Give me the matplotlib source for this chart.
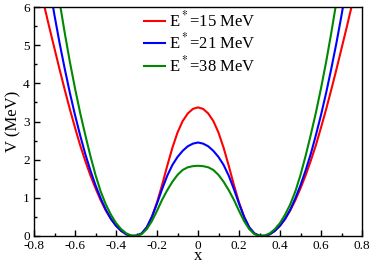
import numpy as np
import matplotlib
matplotlib.use('Agg')
import matplotlib.pyplot as plt
from matplotlib.ticker import MultipleLocator

plt.rcParams['font.family'] = ['Liberation Serif', 'DejaVu Serif']
plt.rcParams['mathtext.fontset'] = 'stix'
plt.rcParams['axes.unicode_minus'] = False

# x 网格 (读图取值)
x = [-0.775, -0.75, -0.725, -0.7, -0.675, -0.65, -0.625, -0.6, -0.575, -0.55,
     -0.525, -0.5, -0.475, -0.45, -0.425, -0.4, -0.375, -0.35, -0.325, -0.3,
     -0.275, -0.25, -0.225, -0.2, -0.175, -0.15, -0.125, -0.1, -0.075, -0.05,
     -0.025, 0.0, 0.025, 0.05, 0.075, 0.1, 0.125, 0.15, 0.175, 0.2,
     0.225, 0.25, 0.275, 0.3, 0.325, 0.35, 0.375, 0.4, 0.425, 0.45,
     0.475, 0.5, 0.525, 0.55, 0.575, 0.6, 0.625, 0.65, 0.675, 0.7,
     0.725, 0.75, 0.775]

nan = np.nan
V_15 = [6.6, 6.03, 5.46, 4.91, 4.36, 3.83, 3.32, 2.84, 2.38, 1.97,
        1.59, 1.25, 0.94, 0.67, 0.45, 0.27, 0.135, 0.045, 0.004, 0.005,
        0.06, 0.22, 0.5, 0.88, 1.34, 1.84, 2.31, 2.71, 3.01, 3.21,
        3.33, 3.37, 3.33, 3.21, 3.01, 2.71, 2.31, 1.84, 1.34, 0.88,
        0.5, 0.22, 0.06, 0.005, 0.004, 0.045, 0.135, 0.27, 0.45, 0.67,
        0.94, 1.25, 1.59, 1.97, 2.38, 2.84, 3.32, 3.83, 4.36, 4.91,
        5.46, 6.03, 6.6]
V_21 = [nan, nan, 6.56, 5.78, 5.05, 4.38, 3.75, 3.17, 2.64, 2.15,
        1.72, 1.33, 0.99, 0.69, 0.45, 0.27, 0.135, 0.045, 0.004, 0.01,
        0.07, 0.23, 0.5, 0.85, 1.23, 1.58, 1.86, 2.07, 2.23, 2.35,
        2.42, 2.45, 2.42, 2.35, 2.23, 2.07, 1.86, 1.58, 1.23, 0.85,
        0.5, 0.23, 0.07, 0.01, 0.004, 0.045, 0.135, 0.27, 0.45, 0.69,
        0.99, 1.33, 1.72, 2.15, 2.64, 3.17, 3.75, 4.38, 5.05, 5.78,
        6.56, nan, nan]
V_38 = [nan, nan, nan, 7.0, 6.13, 5.32, 4.56, 3.87, 3.23, 2.65,
        2.1, 1.6, 1.17, 0.83, 0.56, 0.34, 0.18, 0.07, 0.01, 0.003,
        0.05, 0.18, 0.39, 0.66, 0.95, 1.2, 1.42, 1.6, 1.73, 1.8,
        1.83, 1.84, 1.83, 1.8, 1.73, 1.6, 1.42, 1.2, 0.95, 0.66,
        0.39, 0.18, 0.05, 0.003, 0.01, 0.07, 0.18, 0.34, 0.56, 0.83,
        1.17, 1.6, 2.1, 2.65, 3.23, 3.87, 4.56, 5.32, 6.13, 7.0,
        nan, nan, nan]

labels = [r'E$^*$=15 MeV', r'E$^*$=21 MeV', r'E$^*$=38 MeV']
colors = ['#ff0000', '#0000ff', '#008800']

xticks = [-0.8, -0.6, -0.4, -0.2, 0.0, 0.2, 0.4, 0.6, 0.8]
xtick_labels = ['-0.8', '-0.6', '-0.4', '-0.2', '0', '0.2', '0.4', '0.6', '0.8']
yticks = [0, 1, 2, 3, 4, 5, 6]

fig = plt.figure(figsize=(3.74, 2.64), dpi=100)
ax = fig.add_axes([34 / 374, 28 / 264, 328 / 374, 229 / 264])

for V, lab, c in zip([V_15, V_21, V_38], labels, colors):
    ax.plot(x, V, color=c, linewidth=1.5, label=lab)

ax.set_xlim(-0.8, 0.8)
ax.set_ylim(0, 6)
ax.set_xticks(xticks)
ax.set_xticklabels(xtick_labels)
ax.set_yticks(yticks)
ax.xaxis.set_minor_locator(MultipleLocator(0.1))
ax.yaxis.set_minor_locator(MultipleLocator(0.5))
ax.tick_params(which='both', direction='in', top=False, right=False, labelsize=9.5)
ax.tick_params(which='major', length=4.5, width=1.0, pad=3)
ax.tick_params(which='minor', length=2.2, width=1.0)
for s in ax.spines.values():
    s.set_linewidth(1.0)

ax.set_xlabel('x', fontsize=12, labelpad=-3)
ax.set_ylabel('V (MeV)', fontsize=12, labelpad=1)

ax.legend(loc='upper left', bbox_to_anchor=(0.325, 1.0), frameon=False,
          fontsize=12, handlelength=1.25, handletextpad=0.25,
          labelspacing=0.15, borderpad=0.2, borderaxespad=0)

plt.savefig('out.png', dpi=100)
